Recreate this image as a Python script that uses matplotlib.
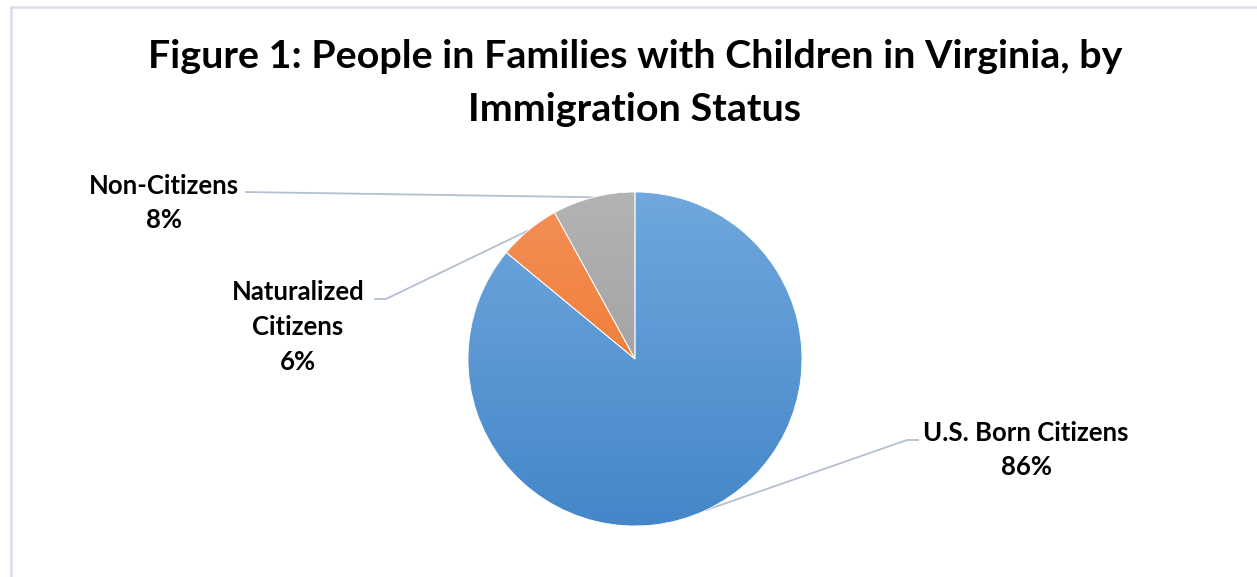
import numpy as np
import matplotlib
matplotlib.use("Agg")
import matplotlib.pyplot as plt
from matplotlib.colors import LinearSegmentedColormap
from matplotlib.lines import Line2D

# ---- data ----
categories = ["U.S. Born Citizens", "Naturalized\nCitizens", "Non-Citizens"]
values = [86, 6, 8]
pct_labels = ["86%", "6%", "8%"]
title = "Figure 1: People in Families with Children in Virginia, by\nImmigration Status"

# gradient colours (top, bottom) per slice
grad_colors = [("#70a7de", "#4487c8"), ("#f39058", "#ee6f1f"), ("#b3b3b3", "#969696")]

W, H = 1257, 577
fig = plt.figure(figsize=(W / 100, H / 100), dpi=100)
ax = fig.add_axes([0, 0, 1, 1])

cx, cy, r = 635, H - 359, 167
wedges, _ = ax.pie(values, startangle=90, counterclock=False, center=(cx, cy),
                   radius=r, wedgeprops=dict(edgecolor="white", linewidth=0.6),
                   frame=True)
ax.set_xlim(0, W)
ax.set_ylim(0, H)
ax.set_aspect("equal")
ax.axis("off")

grad = np.linspace(0, 1, 256).reshape(-1, 1)
for w, (c_top, c_bot) in zip(wedges, grad_colors):
    cmap = LinearSegmentedColormap.from_list("g", [c_top, c_bot])
    im = ax.imshow(grad, cmap=cmap, extent=(cx - r, cx + r, cy - r, cy + r),
                   origin="upper", aspect="auto", zorder=w.get_zorder())
    im.set_clip_path(w)
    w.set_facecolor("none")
    w.set_zorder(w.get_zorder() + 1)

font = "Lato"
# title
ax.text(635, H - 83, title, ha="center", va="center", fontsize=28.4,
        fontweight="bold", family=font, linespacing=1.6, color="black")

# labels
label_pos = [(1026, H - 450), (298, H - 327), (164, H - 203)]
line_color = "#b4c0d2"
stub = [((919, H - 440), (907, H - 440)),
        ((374, H - 299), (386, H - 299)),
        ((245, H - 192), (245, H - 192))]
for i, (w, cat, pl) in enumerate(zip(wedges, categories, pct_labels)):
    ax.text(label_pos[i][0], label_pos[i][1], f"{cat}\n{pl}", ha="center",
            va="center", fontsize=18.5, fontweight="bold", family=font,
            linespacing=1.53, color="black")
    ang = np.deg2rad((w.theta1 + w.theta2) / 2)
    px, py = cx + r * np.cos(ang), cy + r * np.sin(ang)
    (x0, y0), (x1, y1) = stub[i]
    ax.plot([x0, x1, px], [y0, y1, py], color=line_color, lw=1.3, zorder=0.5,
            solid_capstyle="butt")

# chart border (top and left visible)
bc = "#d9dde8"
fig.add_artist(Line2D([11 / W, 1], [1 - 7 / H, 1 - 7 / H], color=bc, lw=1.8,
                      transform=fig.transFigure))
fig.add_artist(Line2D([11 / W, 11 / W], [0, 1 - 7 / H], color=bc, lw=1.8,
                      transform=fig.transFigure))

fig.savefig("out.png", dpi=100, facecolor="white")
